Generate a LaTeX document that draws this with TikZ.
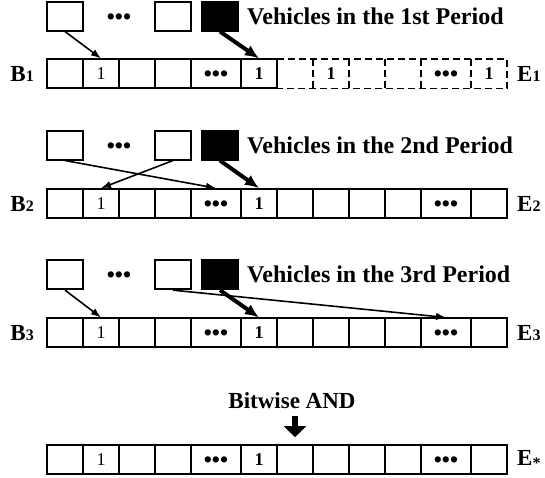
\documentclass[tikz,border=0pt]{standalone}
\usepackage{fontspec}
\setmainfont{Liberation Serif}
\usetikzlibrary{arrows.meta}
\newcommand{\cellone}{{\fontsize{18}{18}\selectfont 1}}
\newcommand{\cellbone}{{\bfseries\fontsize{18}{18}\selectfont 1}}
\newcommand{\celldots}{{\bfseries\fontsize{23}{23}\selectfont\raisebox{-8pt}[0pt][0pt]{•••}}}
\newcommand{\labsub}[1]{{\fontsize{16}{16}\selectfont #1}}
\begin{document}
\begin{tikzpicture}[x=1pt,y=1pt,
  box/.style={draw, line width=1.7pt, minimum width=36pt, minimum height=29pt, inner sep=0pt},
  blackbox/.style={box, fill=black},
  cell/.style={draw, line width=1.7pt, minimum height=29pt, inner sep=0pt},
  ghostcell/.style={minimum height=29pt, inner sep=0pt},
  dashline/.style={line width=1.7pt, dash pattern=on 7pt off 4pt},
  thinarrow/.style={line width=1.6pt, -{Latex[length=10pt,width=7.5pt]}},
  thickarrow/.style={line width=4pt, -{Latex[length=14pt,width=12pt]}},
  blockarrow/.style={line width=6.5pt, -{Triangle[length=11pt,width=22pt]}},
  title/.style={font=\bfseries\fontsize{24}{28}\selectfont, inner sep=0pt, anchor=base west},
  lab/.style={font=\bfseries\fontsize{23}{26}\selectfont, inner sep=0pt},
  dotstxt/.style={inner sep=0pt}
]
\useasboundingbox (0,0) rectangle (545,-477);

% ---------- arrays ----------
% row 1: solid part
\foreach \i/\x/\w/\t in {1/65/36/{}, 2/101/36/\cellone, 3/137/36/{}, 4/173/36/{}, 5/216/50/\celldots, 6/259/36/\cellbone}{
  \node[cell, minimum width=\w pt] (r1c\i) at (\x,-73.8) {\t};
}
% row 1: dashed part
\foreach \i/\x/\w/\t in {7/295/36/{}, 8/331/36/\cellbone, 9/367/36/{}, 10/403/36/{}, 11/446/50/\celldots, 12/489/36/\cellbone}{
  \node[ghostcell, minimum width=\w pt] (r1c\i) at (\x,-73.8) {\t};
}
\draw[dashline] (r1c7.north west) -- (r1c12.north east) -- (r1c12.south east) -- (r1c7.south west);
\foreach \i in {7,...,11}{
  \draw[dashline] (r1c\i.north east) -- (r1c\i.south east);
}
% rows 2-4
\foreach \r/\y in {2/203.5, 3/332.8, 4/459.5}{
  \foreach \i/\x/\w/\t in {1/65/36/{}, 2/101/36/\cellone, 3/137/36/{}, 4/173/36/{}, 5/216/50/\celldots, 6/259/36/\cellbone, 7/295/36/{}, 8/331/36/{}, 9/367/36/{}, 10/403/36/{}, 11/446/50/\celldots, 12/489/36/{}}{
    \node[cell, minimum width=\w pt] (r\r c\i) at (\x,-\y) {\t};
  }
}

% ---------- labels ----------
\node[lab, anchor=east] (B1) at (34,-73.8) {B\labsub{1}};
\node[lab, anchor=west] (E1) at (517,-73.8) {E\labsub{1}};
\node[lab, anchor=east] (B2) at (34,-203.5) {B\labsub{2}};
\node[lab, anchor=west] (E2) at (517,-203.5) {E\labsub{2}};
\node[lab, anchor=east] (B3) at (34,-332.8) {B\labsub{3}};
\node[lab, anchor=west] (E3) at (517,-332.8) {E\labsub{3}};
\node[lab, anchor=west] (E4) at (517,-459.5) {E\labsub{\raisebox{-3pt}{*}}};

% ---------- vehicles ----------
\foreach \r/\y/\s in {1/16.2/1st, 2/145.2/2nd, 3/274.8/3rd}{
  \node[box] (r\r b1) at (65,-\y) {};
  \node[dotstxt] (r\r dots) at (119,-\y) {\celldots};
  \node[box] (r\r b2) at (173,-\y) {};
  \node[blackbox] (r\r bk) at (220,-\y) {};
  \node[title] (r\r title) at (247,-\y-8) {Vehicles in the \s\ Period};
}

% ---------- connectors ----------
\draw[thinarrow] (r1b1.south) -- (r1c2.north);
\draw[thickarrow] (r1bk.south) -- (r1c6.north);

\draw[thinarrow] (r2b1.south) -- (r2c5.north);
\draw[thinarrow] (r2b2.south) -- (r2c2.north);
\draw[thickarrow] (r2bk.south) -- (r2c6.north);

\draw[thinarrow] (r3b1.south) -- (r3c2.north);
\draw[thinarrow] (r3b2.south) -- (r3c11.north);
\draw[thickarrow] (r3bk.south) -- (r3c6.north);

% ---------- bitwise AND ----------
\node[title, font=\bfseries\fontsize{23}{26}\selectfont, anchor=base] (andlbl) at (292,-408) {Bitwise AND};
\draw[blockarrow, shorten <=8pt, shorten >=7pt] (r4c7.north |- andlbl.south) -- (r4c7.north);
\end{tikzpicture}
\end{document}
